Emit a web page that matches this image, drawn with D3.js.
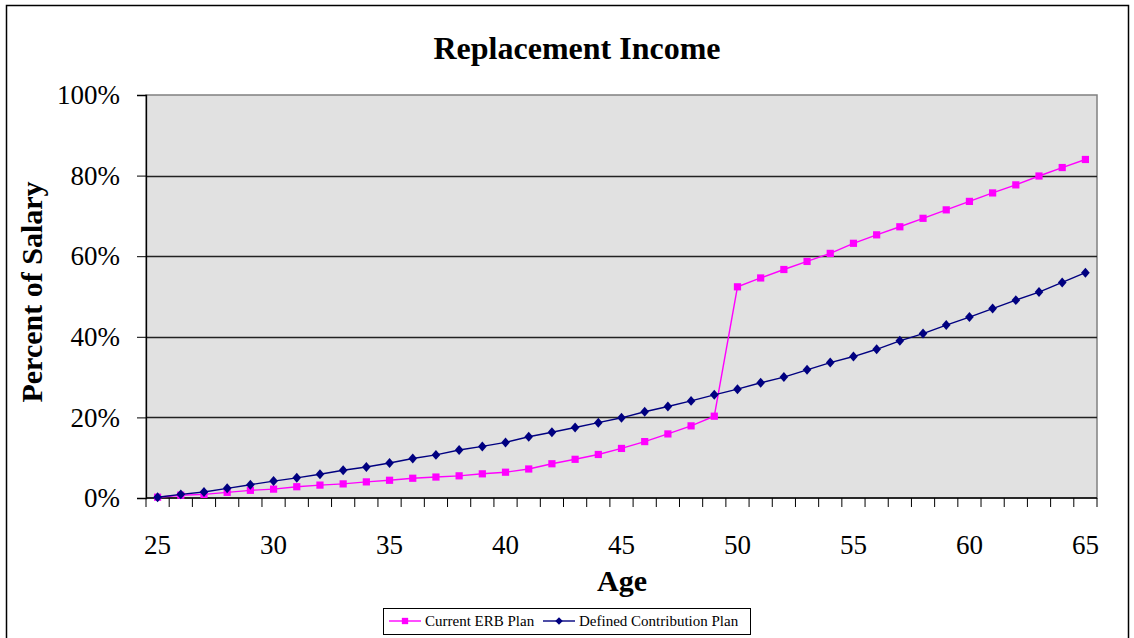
<!DOCTYPE html>
<html>
<head>
<meta charset="utf-8">
<script src="https://cdn.jsdelivr.net/npm/d3@7"></script>
<style>
	body { margin: 0; background: #fff; }
	text { font-family: "Liberation Serif", "Times New Roman", serif; }
</style>
</head>
<body>
<div id="chart"></div>
<script>
var width = 1134;
var height = 638;

var ages = d3.range(25, 66);
var tickAges = [25, 30, 35, 40, 45, 50, 55, 60, 65];
var yTicks = [0, 0.2, 0.4, 0.6, 0.8, 1.0];

// Current ERB Plan (fraction of salary)
var erbValues = [
	0.002, 0.007, 0.009, 0.014, 0.019, 0.022, 0.028, 0.032, 0.035, 0.040,
	0.044, 0.049, 0.052, 0.055, 0.060, 0.064, 0.072, 0.085, 0.096, 0.108,
	0.123, 0.140, 0.159, 0.179, 0.203, 0.524, 0.546, 0.567, 0.587, 0.607,
	0.632, 0.653, 0.673, 0.694, 0.715, 0.736, 0.757, 0.777, 0.799, 0.820,
	0.840
	];

// Defined Contribution Plan
var dcValues = [
	0.002, 0.009, 0.015, 0.024, 0.033, 0.042, 0.050, 0.059, 0.069, 0.077,
	0.087, 0.098, 0.107, 0.119, 0.128, 0.138, 0.152, 0.163, 0.175, 0.187,
	0.199, 0.214, 0.227, 0.241, 0.256, 0.270, 0.286, 0.300, 0.318, 0.336,
	0.351, 0.369, 0.390, 0.408, 0.429, 0.449, 0.470, 0.491, 0.511, 0.535,
	0.559
	];

var series = [
	{ name: "Current ERB Plan", color: "#ff00ff", shape: "square", values: erbValues },
	{ name: "Defined Contribution Plan", color: "#000080", shape: "diamond", values: dcValues }
	];

var plot = { left: 146, right: 1097, top: 95, bottom: 498 };

var svg = d3.select("#chart")
	.append("svg")
		.attr("width", width)
		.attr("height", height)
	;

// outer chart frame
svg.append("rect")
	.attr("x", 6.5).attr("y", 5.5)
	.attr("width", 1122).attr("height", 640)
	.attr("fill", "#fff")
	.attr("stroke", "#000")
	.attr("stroke-width", 1.5)
	;

var x = d3.scaleBand()
	.domain(ages)
	.range([plot.left, plot.right])
	;

var y = d3.scaleLinear()
	.domain([0, 1])
	.range([plot.bottom, plot.top])
	;

// plot background
svg.append("rect")
	.attr("x", plot.left).attr("y", plot.top)
	.attr("width", plot.right - plot.left)
	.attr("height", plot.bottom - plot.top)
	.attr("fill", "#e1e1e1")
	.attr("stroke", "#808080")
	.attr("stroke-width", 1.5)
	;

// gridlines
svg.selectAll("line.grid")
	.data(yTicks.slice(1, -1))
	.enter()
		.append("line")
			.attr("class", "grid")
			.attr("x1", plot.left)
			.attr("x2", plot.right)
			.attr("y1", d => Math.round(y(d)) + 0.5)
			.attr("y2", d => Math.round(y(d)) + 0.5)
			.attr("stroke", "#222")
			.attr("stroke-width", 1.3)
	;

// y axis
var yAxis = svg.append("g")
	.attr("transform", "translate(" + plot.left + ",0)")
	.call(d3.axisLeft(y)
		.tickValues(yTicks)
		.tickFormat(d3.format(".0%"))
		.tickSize(9)
		.tickPadding(17)
		)
	;
yAxis.selectAll("text")
	.attr("font-size", 27)
	.attr("fill", "#000")
	.attr("font-family", "Liberation Serif");
yAxis.selectAll("line").attr("stroke", "#000");
yAxis.select(".domain").attr("stroke", "#000").attr("stroke-width", 1.3);

// x axis: ticks at category boundaries, labels every 5 years
var xAxisG = svg.append("g")
	.attr("transform", "translate(0," + plot.bottom + ")");

xAxisG.append("line")
	.attr("x1", plot.left).attr("x2", plot.right)
	.attr("stroke", "#000").attr("stroke-width", 1.3);

xAxisG.selectAll("line.tick")
	.data(ages.concat([66]))
	.enter()
		.append("line")
			.attr("class", "tick")
			.attr("x1", d => d <= 65 ? x(d) : plot.right)
			.attr("x2", d => d <= 65 ? x(d) : plot.right)
			.attr("y1", 0)
			.attr("y2", 9)
			.attr("stroke", "#000")
	;

xAxisG.selectAll("text")
	.data(tickAges)
	.enter()
		.append("text")
			.attr("x", d => x(d) + x.bandwidth() / 2)
			.attr("y", 56)
			.attr("text-anchor", "middle")
			.attr("font-size", 27)
			.text(d => d)
	;

// lines and markers
var line = d3.line()
	.x((d, i) => x(ages[i]) + x.bandwidth() / 2)
	.y(d => y(d))
	;

series.forEach(function(s) {
	svg.append("path")
		.datum(s.values)
		.attr("d", line)
		.attr("fill", "none")
		.attr("stroke", s.color)
		.attr("stroke-width", 1.4)
		;
	var sym = s.shape === "square"
		? d3.symbol().type(d3.symbolSquare).size(52)
		: d3.symbol().type(d3.symbolDiamond2).size(48);
	svg.selectAll(null)
		.data(s.values)
		.enter()
			.append("path")
				.attr("d", sym)
				.attr("transform", (d, i) => "translate(" + (x(ages[i]) + x.bandwidth() / 2) + "," + y(d) + ")" + (s.shape === "diamond" ? " scale(1,1.15)" : ""))
				.attr("fill", s.color)
		;
	});

// title and axis titles
svg.append("text")
	.attr("x", 577).attr("y", 59)
	.attr("text-anchor", "middle")
	.attr("font-size", 32)
	.attr("font-weight", "bold")
	.text("Replacement Income");

svg.append("text")
	.attr("transform", "translate(42,292) rotate(-90)")
	.attr("text-anchor", "middle")
	.attr("font-size", 30)
	.attr("font-weight", "bold")
	.text("Percent of Salary");

svg.append("text")
	.attr("x", 622).attr("y", 591)
	.attr("text-anchor", "middle")
	.attr("font-size", 30)
	.attr("font-weight", "bold")
	.text("Age");

// legend
var legend = svg.append("g").attr("transform", "translate(383,608)");
legend.append("rect")
	.attr("x", 0.5).attr("y", 0.5)
	.attr("width", 367).attr("height", 26)
	.attr("fill", "#fff")
	.attr("stroke", "#000");

var legendX = [6, 160];
series.forEach(function(s, i) {
	var g = legend.append("g").attr("transform", "translate(" + legendX[i] + ",13)");
	g.append("line")
		.attr("x1", 0).attr("x2", 32)
		.attr("stroke", s.color).attr("stroke-width", 1.4);
	g.append("path")
		.attr("d", s.shape === "square"
			? d3.symbol().type(d3.symbolSquare).size(40)()
			: d3.symbol().type(d3.symbolDiamond2).size(36)())
		.attr("transform", "translate(16,0)")
		.attr("fill", s.color);
	g.append("text")
		.attr("x", 36).attr("y", 5)
		.attr("font-size", 15)
		.text(s.name);
	});
</script>
</body>
</html>
